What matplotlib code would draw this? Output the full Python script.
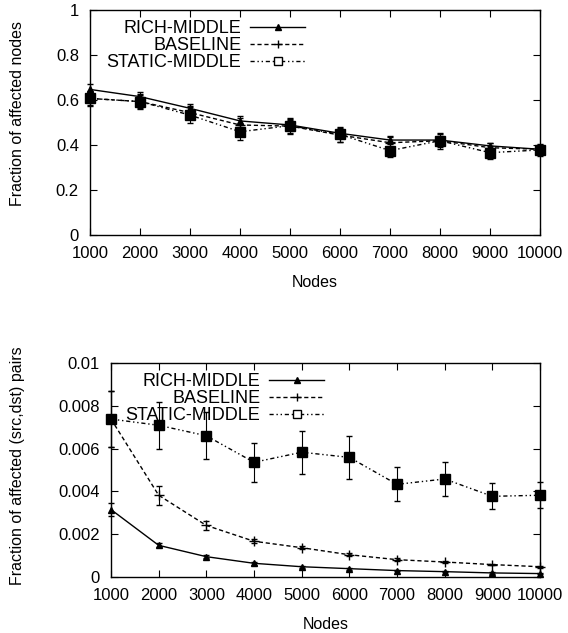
import numpy as np
import matplotlib.pyplot as plt
from matplotlib.lines import Line2D

plt.rcParams['font.family'] = ['Liberation Sans', 'DejaVu Sans']
plt.rcParams['font.size'] = 12

nodes = [1000, 2000, 3000, 4000, 5000, 6000, 7000, 8000, 9000, 10000]

# Fraction of affected nodes
rich_nodes = [0.647, 0.615, 0.563, 0.507, 0.489, 0.452, 0.422, 0.422, 0.396, 0.381]
base_nodes = [0.607, 0.593, 0.544, 0.489, 0.484, 0.444, 0.410, 0.419, 0.388, 0.381]
static_nodes = [0.607, 0.593, 0.533, 0.459, 0.486, 0.447, 0.375, 0.419, 0.366, 0.378]
rich_nodes_err = [0.025, 0.02, 0.02, 0.02, 0.02, 0.02, 0.015, 0.02, 0.015, 0.02]
base_nodes_err = [0.03, 0.03, 0.03, 0.03, 0.03, 0.03, 0.03, 0.03, 0.02, 0.02]
static_nodes_err = [0.035, 0.035, 0.035, 0.035, 0.035, 0.035, 0.03, 0.035, 0.03, 0.025]

# Fraction of affected (src,dst) pairs
rich_pairs = [0.00315, 0.00148, 0.00095, 0.00064, 0.00048, 0.00039, 0.0003, 0.00025, 0.00019, 0.00016]
base_pairs = [0.00738, 0.00382, 0.00241, 0.00167, 0.00137, 0.00104, 0.00081, 0.0007, 0.00058, 0.00048]
static_pairs = [0.00738, 0.00709, 0.0066, 0.00536, 0.00583, 0.00559, 0.00433, 0.00458, 0.00377, 0.00382]
rich_pairs_err = [0.0003, 0.0001, 0.00008, 0.00006, 0.00005, 0.00004, 0.00004, 0.00003, 0.00003, 0.00003]
base_pairs_err = [0.0013, 0.00045, 0.0002, 0.0001, 0.00008, 0.00007, 0.00006, 0.00005, 0.00004, 0.00004]
static_pairs_err = [0.0013, 0.0011, 0.0011, 0.0009, 0.001, 0.001, 0.0008, 0.0008, 0.0006, 0.0006]

labels = ["RICH-MIDDLE", "BASELINE", "STATIC-MIDDLE"]
styles = [dict(ls='-', marker='^', ms=5),
          dict(ls=(0, (3, 2)), marker='+', ms=7),
          dict(ls=(0, (3, 2, 1, 2, 1, 2)), marker='s', ms=7)]

fig = plt.figure(figsize=(5.68, 6.33), dpi=100)
ax1 = fig.add_axes([90/568, 1 - 235/633, 450/568, 225/633])
ax2 = fig.add_axes([111/568, 1 - 577/633, 429/568, 214/633])


def draw(ax, series, errs, legend_x):
    for y, e, st in zip(series, errs, styles):
        ax.errorbar(nodes, y, yerr=e, color='black', lw=1, ls=st['ls'],
                    marker=st['marker'], ms=st['ms'], mfc='black', mec='black',
                    capsize=2, elinewidth=0.8, clip_on=False)
    handles = [Line2D([], [], color='black', lw=1, ls=st['ls'], marker=st['marker'],
                      ms=st['ms'] - 1, mfc='white' if st['marker'] == 's' else 'black',
                      mec='black') for st in styles]
    ax.legend(handles, labels, loc='upper left', bbox_to_anchor=(legend_x, 1.0), frameon=False,
              markerfirst=False, handlelength=3.0, labelspacing=0.0, borderaxespad=0.15,
              handletextpad=0.5, fontsize=13)
    ax.set_xlim(1000, 10000)
    ax.set_xticks(nodes)
    ax.set_xlabel("Nodes", fontsize=11.5, labelpad=10)
    ax.tick_params(direction='in', top=True, right=True, labelsize=12, length=5, pad=8)
    for s in ax.spines.values():
        s.set_linewidth(1)


draw(ax1, [rich_nodes, base_nodes, static_nodes],
     [rich_nodes_err, base_nodes_err, static_nodes_err], 0.015)
ax1.set_ylim(0, 1)
ax1.set_yticks([0, 0.2, 0.4, 0.6, 0.8, 1])
ax1.set_yticklabels(["0", "0.2", "0.4", "0.6", "0.8", "1"])
ax1.set_ylabel("Fraction of affected nodes", fontsize=11.5)
ax1.yaxis.set_label_coords(-0.145, 0.54)

draw(ax2, [rich_pairs, base_pairs, static_pairs],
     [rich_pairs_err, base_pairs_err, static_pairs_err], 0.011)
ax2.set_ylim(0, 0.01)
ax2.set_yticks([0, 0.002, 0.004, 0.006, 0.008, 0.01])
ax2.set_yticklabels(["0", "0.002", "0.004", "0.006", "0.008", "0.01"])
ax2.set_ylabel("Fraction of affected (src,dst) pairs", fontsize=11.5)
ax2.yaxis.set_label_coords(-0.201, 0.52)

fig.savefig("out.png", dpi=100)
